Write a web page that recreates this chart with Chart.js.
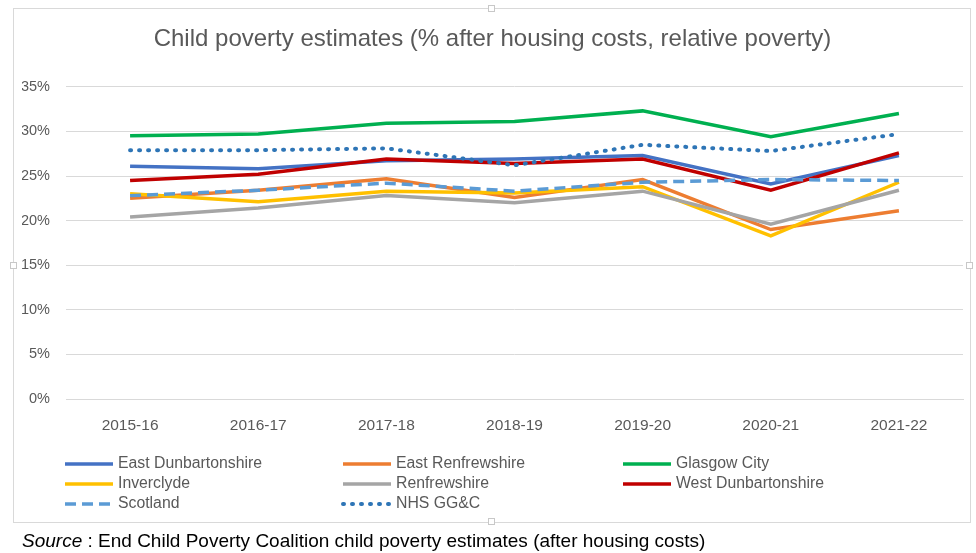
<!DOCTYPE html>
<html lang="en">
<head>
    <meta charset="UTF-8">
    <title>Child poverty estimates</title>
    <script src="https://cdn.jsdelivr.net/npm/chart.js"></script>
    <style>
        body {
            margin: 0;
            background: #fff;
            font-family: "Liberation Sans", Arial, sans-serif;
        }
        .wrap {
            position: relative;
            width: 976px;
            height: 553px;
            overflow: hidden;
        }
        .frame {
            position: absolute;
            left: 13px;
            top: 8px;
            width: 956px;
            height: 513px;
            border: 1px solid #d9d9d9;
        }
        .handle {
            position: absolute;
            width: 5px;
            height: 5px;
            background: #fff;
            border: 1px solid #c8c8c8;
        }
        canvas {
            position: absolute;
            left: 0;
            top: 0;
        }
        .source {
            position: absolute;
            left: 22px;
            top: 530px;
            font-size: 19px;
            color: #000;
            white-space: nowrap;
        }
    </style>
</head>
<body>
<div class="wrap">
    <div class="frame"></div>
    <div class="handle" style="left:488px;top:5px"></div>
    <div class="handle" style="left:488px;top:518px"></div>
    <div class="handle" style="left:10px;top:262px"></div>
    <div class="handle" style="left:966px;top:262px"></div>
    <canvas id="povertyChart" width="976" height="553"></canvas>
    <div class="source"><i>Source</i> : End Child Poverty Coalition child poverty estimates (after housing costs)</div>
</div>

<script>
    // values (percent)
    let years = ["2015-16", "2016-17", "2017-18", "2018-19", "2019-20", "2020-21", "2021-22"];
    let eastDunbartonshire = [26.1, 25.8, 26.7, 26.9, 27.3, 24.1, 27.3];
    let eastRenfrewshire = [22.5, 23.4, 24.7, 22.6, 24.6, 19.0, 21.1];
    let glasgowCity = [29.5, 29.7, 30.9, 31.1, 32.3, 29.4, 32.0];
    let inverclyde = [23.0, 22.1, 23.3, 23.1, 23.8, 18.3, 24.3];
    let renfrewshire = [20.4, 21.4, 22.8, 22.0, 23.3, 19.6, 23.4];
    let westDunbartonshire = [24.5, 25.2, 26.9, 26.4, 26.9, 23.4, 27.6];
    let scotland = [22.8, 23.4, 24.2, 23.3, 24.3, 24.6, 24.5];
    let nhsGGC = [27.9, 27.9, 28.1, 26.2, 28.5, 27.8, 29.7];
    let yTicks = [0, 5, 10, 15, 20, 25, 30, 35];

    let textGrey = "#595959";
    let fontFamily = "'Liberation Sans', Arial, sans-serif";

    function line(label, data, color, extra) {
        return Object.assign({
            label: label,
            data: data,
            borderColor: color,
            backgroundColor: color,
            borderWidth: 3.5,
            pointRadius: 0,
            tension: 0,
            fill: false
        }, extra || {});
    }

    let datasets = [
        line("East Dunbartonshire", eastDunbartonshire, "#4472C4"),
        line("East Renfrewshire", eastRenfrewshire, "#ED7D31"),
        line("Glasgow City", glasgowCity, "#00B050"),
        line("Inverclyde", inverclyde, "#FFC000"),
        line("Renfrewshire", renfrewshire, "#A5A5A5"),
        line("West Dunbartonshire", westDunbartonshire, "#C00000"),
        line("Scotland", scotland, "#5B9BD5", { borderDash: [11, 6] }),
        line("NHS GG&C", nhsGGC, "#2E75B6", { borderDash: [1, 8], borderCapStyle: "round", borderWidth: 4 })
    ];
    // later series painted on top, like the original
    datasets.forEach((ds, i) => { ds.order = datasets.length - i; });

    // three-column legend under the axis
    let gridLegend = {
        id: "gridLegend",
        afterDraw(chart) {
            let ctx = chart.ctx;
            let cols = [65, 343, 623];
            let rows = [464, 484, 504];
            ctx.save();
            ctx.font = "15.8px " + fontFamily;
            ctx.textBaseline = "middle";
            chart.data.datasets.forEach((ds, i) => {
                let x = cols[i % 3];
                let y = rows[Math.floor(i / 3)];
                ctx.beginPath();
                ctx.strokeStyle = ds.borderColor;
                ctx.lineWidth = ds.borderWidth;
                ctx.lineCap = ds.borderCapStyle || "butt";
                ctx.setLineDash(ds.borderDash || []);
                ctx.moveTo(x, y);
                ctx.lineTo(x + 48, y);
                ctx.stroke();
                ctx.setLineDash([]);
                ctx.fillStyle = textGrey;
                ctx.fillText(ds.label, x + 53, y);
            });
            ctx.restore();
        }
    };

    new Chart(document.getElementById("povertyChart"), {
        type: "line",
        data: { labels: years, datasets: datasets },
        plugins: [gridLegend],
        options: {
            responsive: false,
            animation: false,
            devicePixelRatio: 1,
            layout: { padding: { top: 10, right: 13, left: 22, bottom: 0 } },
            plugins: {
                legend: { display: false },
                tooltip: { enabled: false },
                title: {
                    display: true,
                    text: "Child poverty estimates (% after housing costs, relative poverty)",
                    color: textGrey,
                    font: { family: fontFamily, size: 24, weight: "normal" },
                    padding: { top: 15, bottom: 33 }
                }
            },
            scales: {
                x: {
                    offset: true,
                    grid: { display: false },
                    border: { color: "#d9d9d9" },
                    ticks: {
                        color: textGrey,
                        padding: 9,
                        font: { family: fontFamily, size: 15.5 }
                    },
                    afterFit(scale) { scale.height = 154; }
                },
                y: {
                    min: 0,
                    max: 35,
                    border: { display: false },
                    grid: { color: "#d9d9d9", drawTicks: false },
                    afterBuildTicks(scale) { scale.ticks = yTicks.map(v => ({ value: v })); },
                    ticks: {
                        color: textGrey,
                        padding: 16,
                        font: { family: fontFamily, size: 14.5 },
                        callback: v => v + "%"
                    },
                    afterFit(scale) { scale.width = 44; }
                }
            }
        }
    });
</script>
</body>
</html>
